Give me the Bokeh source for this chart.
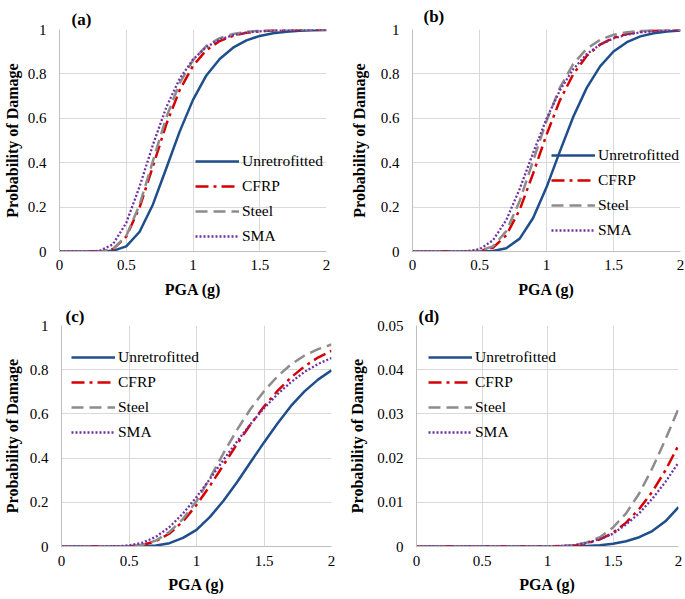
from bokeh.plotting import figure
from bokeh.layouts import column, row
from bokeh.models import Range1d, FixedTicker, Legend, LegendItem
from bokeh.embed import file_html
from bokeh.resources import INLINE

# ---------------- data ----------------
pga = [0.0, 0.1, 0.2, 0.3, 0.4, 0.5, 0.6, 0.7, 0.8, 0.9, 1.0,
       1.1, 1.2, 1.3, 1.4, 1.5, 1.6, 1.7, 1.8, 1.9, 2.0]

series_names = ["Unretrofitted", "CFRP", "Steel", "SMA"]

# panel (a)
a_unretrofitted = [0, 0, 0, 0.0001, 0.003, 0.023, 0.089, 0.212, 0.375, 0.540, 0.683,
                   0.793, 0.867, 0.918, 0.951, 0.971, 0.983, 0.990, 0.994, 0.997, 0.998]
a_cfrp = [0, 0, 0, 0.0005, 0.011, 0.067, 0.199, 0.384, 0.573, 0.727, 0.836,
          0.907, 0.948, 0.972, 0.985, 0.992, 0.996, 0.998, 0.999, 0.999, 1.0]
a_steel = [0, 0, 0, 0.0004, 0.011, 0.070, 0.211, 0.408, 0.604, 0.758, 0.862,
           0.926, 0.961, 0.980, 0.990, 0.995, 0.998, 0.999, 1.0, 1.0, 1.0]
a_sma = [0, 0, 0, 0.003, 0.032, 0.129, 0.293, 0.481, 0.650, 0.778, 0.865,
         0.921, 0.955, 0.974, 0.986, 0.992, 0.996, 0.998, 0.999, 0.999, 1.0]

# panel (b)
b_unretrofitted = [0, 0, 0, 0, 0, 0.0001, 0.002, 0.015, 0.058, 0.151, 0.289,
                   0.451, 0.607, 0.737, 0.834, 0.901, 0.943, 0.969, 0.983, 0.991, 0.995]
b_cfrp = [0, 0, 0, 0, 0.0001, 0.002, 0.017, 0.073, 0.188, 0.351, 0.526,
          0.681, 0.799, 0.881, 0.932, 0.963, 0.980, 0.990, 0.995, 0.997, 0.999]
b_steel = [0, 0, 0, 0, 0.0001, 0.003, 0.023, 0.092, 0.228, 0.408, 0.588,
           0.738, 0.845, 0.913, 0.954, 0.976, 0.988, 0.994, 0.997, 0.999, 0.999]
b_sma = [0, 0, 0, 0, 0.001, 0.010, 0.050, 0.142, 0.282, 0.444, 0.598,
         0.726, 0.822, 0.889, 0.932, 0.960, 0.977, 0.987, 0.992, 0.996, 0.998]

# panel (c)
c_unretrofitted = [0, 0, 0, 0, 0, 0.0001, 0.001, 0.005, 0.015, 0.039, 0.075,
                   0.134, 0.207, 0.291, 0.381, 0.471, 0.557, 0.636, 0.702, 0.755, 0.797]
c_cfrp = [0, 0, 0, 0, 0.0001, 0.001, 0.007, 0.024, 0.059, 0.114, 0.188,
          0.275, 0.369, 0.463, 0.552, 0.633, 0.704, 0.765, 0.815, 0.855, 0.885]
c_steel = [0, 0, 0, 0, 0, 0.001, 0.008, 0.027, 0.066, 0.125, 0.205,
           0.310, 0.422, 0.528, 0.622, 0.703, 0.770, 0.824, 0.864, 0.893, 0.914]
c_sma = [0, 0, 0, 0, 0.0007, 0.005, 0.017, 0.044, 0.088, 0.149, 0.224,
         0.306, 0.392, 0.475, 0.554, 0.626, 0.689, 0.744, 0.790, 0.826, 0.853]

# panel (d)
d_unretrofitted = [0, 0, 0, 0, 0, 0, 0, 0, 0, 0, 0,
                   0, 0.00003, 0.0001, 0.0003, 0.0006, 0.0012, 0.0021, 0.0035, 0.0057, 0.0089]
d_cfrp = [0, 0, 0, 0, 0, 0, 0, 0, 0, 0, 0.00002,
          0.0001, 0.0002, 0.0007, 0.0016, 0.0031, 0.0054, 0.0085, 0.0124, 0.0172, 0.0229]
d_steel = [0, 0, 0, 0, 0, 0, 0, 0, 0, 0, 0.00003,
           0.0001, 0.0003, 0.0009, 0.0021, 0.0043, 0.0075, 0.0120, 0.0177, 0.0242, 0.0312]
d_sma = [0, 0, 0, 0, 0, 0, 0, 0, 0, 0, 0.00003,
         0.0001, 0.0003, 0.0008, 0.0017, 0.0029, 0.0050, 0.0075, 0.0108, 0.0146, 0.0190]

x_ticks = [0, 0.5, 1, 1.5, 2]
x_tick_labels = ["0", "0.5", "1", "1.5", "2"]
y_ticks_prob = [0, 0.2, 0.4, 0.6, 0.8, 1]
y_tick_labels_prob = ["0", "0.2", "0.4", "0.6", "0.8", "1"]
y_ticks_small = [0, 0.01, 0.02, 0.03, 0.04, 0.05]
y_tick_labels_small = ["0", "0.01", "0.02", "0.03", "0.04", "0.05"]

x_title = "PGA (g)"
y_title = "Probability of Damage"
panel_tags = ["(a)", "(b)", "(c)", "(d)"]

# ---------------- styles ----------------
FONT = "Liberation Serif"
COLORS = ["#1F4E8C", "#D60000", "#8C8C8C", "#7030A0"]
DASHES = ["solid", "13 5 3 5", "12 6", "2 2"]
WIDTHS = [2.5, 2.5, 2.5, 2.3]


def make_panel(tag, ys, y_ticks, y_labels, y_max, width, height, borders,
               legend_x, legend_bottom, legend_top, title_offset, title_standoff,
               x_standoffs, y_label_standoff):
    left, right, top, bottom = borders
    frame_h = height - top - bottom
    p = figure(width=width, height=height, title=tag,
               x_range=Range1d(0, 2), y_range=Range1d(0, y_max),
               output_backend="svg", toolbar_location=None,
               min_border_left=left, min_border_right=right,
               min_border_top=top, min_border_bottom=bottom)
    p.outline_line_color = None
    p.background_fill_color = "white"
    p.border_fill_color = "white"

    p.title.align = "left"
    p.title.offset = title_offset
    p.title.standoff = title_standoff
    p.title.text_font = FONT
    p.title.text_font_size = "17px"
    p.title.text_font_style = "bold"
    p.title.text_color = "black"

    for g in (p.xgrid, p.ygrid):
        g.grid_line_color = "#D9D9D9"
        g.grid_line_width = 1

    p.xaxis.ticker = FixedTicker(ticks=x_ticks)
    p.xaxis.major_label_overrides = dict(zip(x_ticks, x_tick_labels))
    p.yaxis.ticker = FixedTicker(ticks=y_ticks)
    p.yaxis.major_label_overrides = dict(zip(y_ticks, y_labels))
    p.xgrid.ticker = FixedTicker(ticks=x_ticks)
    p.ygrid.ticker = FixedTicker(ticks=y_ticks)

    for ax in (p.xaxis[0], p.yaxis[0]):
        ax.axis_line_color = "#BFBFBF"
        ax.axis_line_width = 1
        ax.major_tick_out = 0
        ax.major_tick_in = 0
        ax.minor_tick_out = 0
        ax.minor_tick_in = 0
        ax.major_label_text_font = FONT
        ax.major_label_text_font_size = "15px"
        ax.major_label_text_color = "black"
        ax.axis_label_text_font = FONT
        ax.axis_label_text_font_size = "16px"
        ax.axis_label_text_font_style = "bold"
        ax.axis_label_text_color = "black"
    p.xaxis.axis_label = x_title
    p.yaxis.axis_label = y_title
    p.xaxis.major_label_standoff = x_standoffs[0]
    p.xaxis.axis_label_standoff = x_standoffs[1]
    p.yaxis.major_label_standoff = 13
    p.yaxis.axis_label_standoff = y_label_standoff

    items = []
    for name, y, c, d, w in zip(series_names, ys, COLORS, DASHES, WIDTHS):
        r = p.line(pga, y, line_color=c, line_dash=d, line_width=w)
        items.append(LegendItem(label=name, renderers=[r]))

    leg_h = 4 * 20 + 3 * 5
    if legend_top is not None:
        vy = frame_h - legend_top - leg_h
    else:
        vy = legend_bottom
    legend = Legend(items=items, location=(legend_x, vy),
                    orientation="vertical", padding=0, margin=0, spacing=5,
                    glyph_width=44, glyph_height=20, label_height=20,
                    label_standoff=3,
                    label_text_font=FONT, label_text_font_size="15.5px",
                    label_text_color="black",
                    background_fill_alpha=0, border_line_alpha=0)
    p.add_layout(legend)
    return p


pa = make_panel(panel_tags[0], [a_unretrofitted, a_cfrp, a_steel, a_sma],
                y_ticks_prob, y_tick_labels_prob, 1.0,
                340, 303, (57, 14, 29, 52), 136, 5, None, 12, 2, (8, 8), 4)
pb = make_panel(panel_tags[1], [b_unretrofitted, b_cfrp, b_steel, b_sma],
                y_ticks_prob, y_tick_labels_prob, 1.0,
                344, 303, (72, 4, 29, 52), 139, 11, None, 11, 7, (8, 8), 10)
pc = make_panel(panel_tags[2], [c_unretrofitted, c_cfrp, c_steel, c_sma],
                y_ticks_prob, y_tick_labels_prob, 1.0,
                340, 295, (61, 9, 22, 52), 10, 0, 22, 4, 0, (9, 7), 6)
pd = make_panel(panel_tags[3], [d_unretrofitted, d_cfrp, d_steel, d_sma],
                y_ticks_small, y_tick_labels_small, 0.05,
                344, 295, (76, 6, 22, 52), 12, 0, 22, 2, 0, (9, 7), 8)

layout = column(row(pa, pb), row(pc, pd))

open("out.html", "w").write(file_html(layout, INLINE))
